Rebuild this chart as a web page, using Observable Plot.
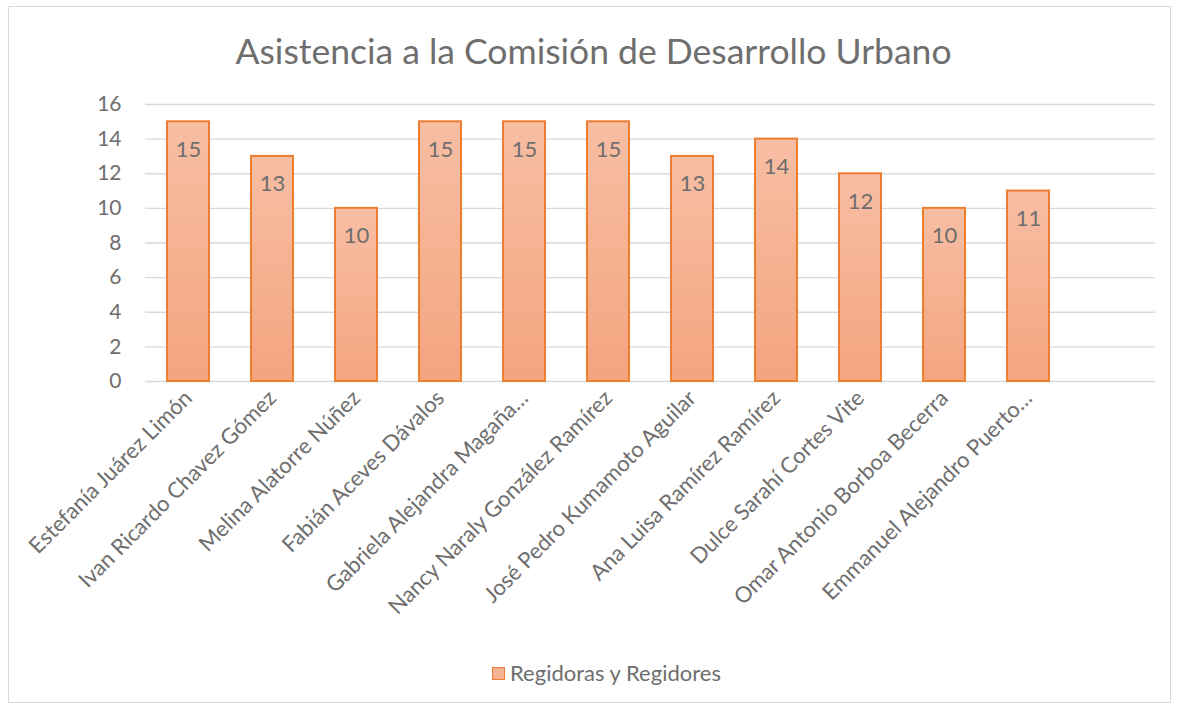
<!DOCTYPE html>
<html>
<head>
<meta charset="utf-8">
<script src="https://cdn.jsdelivr.net/npm/d3@7"></script>
<script src="https://cdn.jsdelivr.net/npm/@observablehq/plot@0.6"></script>
<style>
  html, body { margin: 0; padding: 0; background: #fff; }
  body { width: 1177px; height: 708px; position: relative; overflow: hidden; font-family: Lato, "Open Sans", sans-serif; }
  #frame { position: absolute; left: 8px; top: 6px; width: 1163px; height: 697px; border: 1px solid #d9d9d9; box-sizing: border-box; }
  #title { position: absolute; left: 5px; top: 29px; width: 1177px; text-align: center; font-size: 35.5px; color: #6e6e6e; line-height: 44px; }
  #chart { position: absolute; left: 0; top: 80px; }
  #legend { position: absolute; left: 18px; top: 659px; width: 1177px; text-align: center; font-size: 22px; color: #6e6e6e; line-height: 28px; }
  #legend .sw { display: inline-block; width: 11px; height: 11px; background: #f6b293; border: 1.5px solid #ed7d31; vertical-align: 1px; margin-right: 5px; }
</style>
</head>
<body>
<div id="frame"></div>
<div id="title">Asistencia a la Comisión de Desarrollo Urbano</div>
<div id="chart"></div>
<div id="legend"><span class="sw"></span>Regidoras y Regidores</div>
<script>
const names = [
  "Estefanía Juárez Limón",
  "Ivan Ricardo Chavez Gómez",
  "Melina Alatorre Núñez",
  "Fabián Aceves Dávalos",
  "Gabriela Alejandra Magaña…",
  "Nancy Naraly González Ramírez",
  "José Pedro Kumamoto Aguilar",
  "Ana Luisa Ramírez Ramírez",
  "Dulce Sarahí Cortes Vite",
  "Omar Antonio Borboa Becerra",
  "Emmanuel Alejandro Puerto…"
];
const asistencias = [15, 13, 10, 15, 15, 15, 13, 14, 12, 10, 11];
const yTicks = [0, 2, 4, 6, 8, 10, 12, 14, 16];
const seriesName = "Regidoras y Regidores";

const data = names.map((n, i) => ({name: n, value: asistencias[i]}));
const domainX = [...names, "__empty__"];
const textColor = "#6e6e6e";

const plot = Plot.plot({
  width: 1177,
  height: 560,
  marginLeft: 145,
  marginRight: 22,
  marginTop: 24,
  marginBottom: 259,
  style: {fontFamily: "Lato, 'Open Sans', sans-serif", color: textColor, background: "transparent"},
  x: {domain: domainX, paddingInner: 0.5, paddingOuter: 0.25, align: 0.5, label: null},
  y: {domain: [0, 16], label: null},
  marks: [
    () => {
      const ns = "http://www.w3.org/2000/svg";
      const defs = document.createElementNS(ns, "defs");
      defs.innerHTML = `<linearGradient id="barGrad" x1="0" y1="0" x2="0" y2="1">
        <stop offset="0%" stop-color="#f7bea4"/>
        <stop offset="100%" stop-color="#f4a47e"/>
      </linearGradient>`;
      return defs;
    },
    Plot.gridY(yTicks, {stroke: "#d9d9d9", strokeOpacity: 1, strokeWidth: 1.3}),
    Plot.axisY(yTicks, {tickSize: 0, tickPadding: 24, fontSize: 21, fill: textColor}),
    Plot.barY(data, {x: "name", y: "value", fill: "url(#barGrad)", stroke: "#ed7d31", strokeWidth: 2}),
    Plot.text(data, {x: "name", y: "value", text: d => String(d.value), dy: 28, fontSize: 22, fill: textColor}),
    Plot.axisX(names, {tickSize: 0, tickPadding: 13, tickRotate: -45, fontSize: 22, fill: textColor, label: null})
  ]
});
document.getElementById("chart").appendChild(plot);
</script>
</body>
</html>
